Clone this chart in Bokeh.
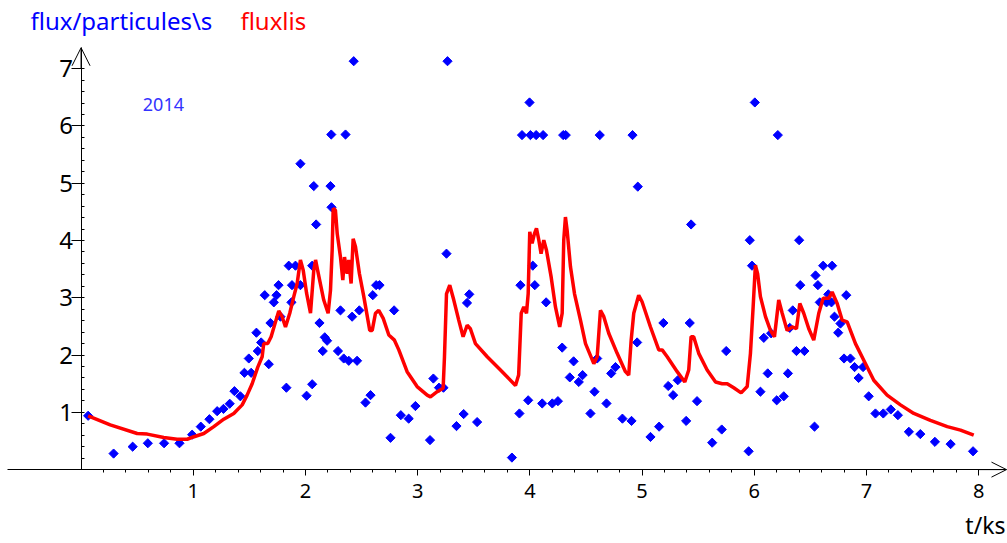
from bokeh.plotting import figure
from bokeh.models import Range1d, FixedTicker, Label, Arrow, OpenHead
from bokeh.embed import file_html
from bokeh.resources import INLINE
from bokeh.core.properties import value

# ---- data ----
t_points = [0.063, 0.29, 0.46, 0.595, 0.74, 0.877, 0.99, 1.067, 1.144, 1.213, 1.269, 1.325, 1.367, 1.42,
            1.456, 1.495, 1.516, 1.563, 1.575, 1.605, 1.637, 1.673, 1.688, 1.718, 1.742, 1.76, 1.777, 1.83,
            1.851, 1.875, 1.88, 1.911, 1.955, 1.955, 2.01, 2.06, 2.06, 2.074, 2.095, 2.125, 2.154, 2.172,
            2.193, 2.223, 2.232, 2.23, 2.29, 2.312, 2.341, 2.357, 2.386, 2.416, 2.43, 2.46, 2.48, 2.535,
            2.58, 2.60, 2.63, 2.66, 2.758, 2.79, 2.85, 2.92, 2.98, 3.11, 3.14, 3.19, 3.23, 3.257, 3.266,
            3.346, 3.41, 3.44, 3.46, 3.53, 3.84, 3.907, 3.916, 3.93, 3.985, 3.997, 4.005, 4.026, 4.044,
            4.056, 4.11, 4.118, 4.145, 4.2, 4.25, 4.288, 4.297, 4.32, 4.356, 4.39, 4.436, 4.47, 4.54,
            4.576, 4.60, 4.623, 4.683, 4.725, 4.763, 4.825, 4.906, 4.915, 4.956, 4.962, 5.075, 5.152,
            5.19, 5.233, 5.277, 5.318, 5.393, 5.425, 5.437, 5.49, 5.625, 5.71, 5.75, 5.95, 5.96, 5.98,
            6.005, 6.055, 6.085, 6.12, 6.15, 6.20, 6.21, 6.263, 6.30, 6.316, 6.343, 6.376, 6.40, 6.41,
            6.447, 6.537, 6.546, 6.567, 6.584, 6.614, 6.644, 6.66, 6.688, 6.694, 6.715, 6.748, 6.768,
            6.80, 6.82, 6.857, 6.894, 6.93, 6.97, 7.02, 7.08, 7.15, 7.217, 7.28, 7.378, 7.48, 7.61,
            7.75, 7.95]
flux = [0.94, 0.28, 0.40, 0.46, 0.46, 0.46, 0.61, 0.75, 0.88, 1.02, 1.06, 1.15, 1.37, 1.28,
        1.69, 1.94, 1.69, 2.39, 2.07, 2.22, 3.045, 1.84, 2.56, 2.92, 3.045, 3.22, 2.67, 1.43,
        3.56, 2.92, 3.22, 3.56, 3.22, 5.34, 1.29, 1.49, 3.56, 4.95, 4.28, 2.56, 2.07, 2.31,
        2.25, 4.95, 4.58, 5.85, 2.07, 2.78, 1.94, 5.85, 1.90, 2.67, 7.13, 1.90, 2.78, 1.17,
        1.30, 3.045, 3.22, 3.22, 0.555, 2.78, 0.95, 0.89, 1.11, 0.515, 1.59, 1.43, 1.43, 3.77, 7.13,
        0.76, 0.97, 2.91, 3.06, 0.83, 0.21, 0.98, 3.22, 5.84, 1.21, 6.41, 5.84, 3.56, 3.22,
        5.84, 1.155, 5.84, 2.92, 1.155, 1.195, 2.13, 5.84, 5.84, 1.61, 1.89, 1.53, 1.65, 0.98,
        1.36, 1.94, 5.84, 1.155, 1.68, 1.79, 0.89, 0.85, 5.84, 2.22, 4.94, 0.57, 0.75,
        2.56, 1.46, 1.30, 1.56, 0.85, 2.56, 4.28, 1.195, 0.47, 0.70, 2.07, 0.32, 4.005, 3.56,
        6.41, 1.36, 2.30, 1.68, 2.38, 1.21, 5.84, 1.28, 1.68, 2.475, 2.78, 2.07, 4.005, 3.22,
        2.07, 0.75, 3.39, 3.22, 2.92, 3.56, 2.92, 3.06, 2.92, 3.56, 2.67, 2.39, 2.55,
        1.94, 3.045, 1.94, 1.79, 1.60, 1.79, 1.28, 0.98, 0.98, 1.05, 0.95, 0.66, 0.62, 0.485,
        0.445, 0.32]

t_lis = [0.063, 0.26, 0.5, 0.59, 0.737, 0.856, 0.946, 1.0, 1.094, 1.183, 1.272, 1.361, 1.436, 1.48,
         1.525, 1.575, 1.614, 1.628, 1.664, 1.694, 1.724, 1.762, 1.792, 1.822, 1.86, 1.896, 1.926,
         1.955, 1.98, 2.01, 2.045, 2.074, 2.09, 2.12, 2.163, 2.202, 2.223, 2.238, 2.247, 2.267, 2.283,
         2.312, 2.333, 2.348, 2.372, 2.386, 2.407, 2.425, 2.446, 2.481, 2.52, 2.573, 2.595, 2.624,
         2.653, 2.693, 2.743, 2.793, 2.832, 2.906, 2.995, 3.085, 3.114, 3.174, 3.227, 3.239, 3.257,
         3.286, 3.322, 3.366, 3.405, 3.441, 3.47, 3.515, 3.62, 3.738, 3.872, 3.9, 3.923, 3.946, 3.97,
         3.985, 3.999, 4.02, 4.041, 4.059, 4.08, 4.1, 4.124, 4.148, 4.19, 4.228, 4.266, 4.288, 4.302,
         4.317, 4.332, 4.362, 4.398, 4.451, 4.496, 4.57, 4.6, 4.629, 4.659, 4.703, 4.778, 4.852,
         4.881, 4.903, 4.926, 4.97, 5.0, 5.075, 5.149, 5.179, 5.224, 5.313, 5.381, 5.416, 5.437,
         5.46, 5.505, 5.58, 5.655, 5.714, 5.759, 5.817, 5.883, 5.937, 5.966, 5.99, 6.01, 6.03, 6.055,
         6.1, 6.144, 6.18, 6.218, 6.249, 6.293, 6.338, 6.376, 6.406, 6.441, 6.486, 6.53, 6.575,
         6.614, 6.664, 6.694, 6.739, 6.783, 6.828, 6.902, 6.976, 7.065, 7.184, 7.303, 7.422, 7.57,
         7.72, 7.838, 7.956]
fluxlis = [0.94, 0.78, 0.63, 0.62, 0.56, 0.53, 0.53, 0.57, 0.63, 0.75, 0.88, 0.98, 1.13, 1.30,
           1.50, 1.79, 1.97, 2.20, 2.20, 2.32, 2.52, 2.77, 2.67, 2.49, 2.73, 3.02, 3.25,
           3.66, 3.48, 3.08, 2.73, 3.48, 3.66, 3.37, 2.96, 2.73, 3.13, 3.83, 4.56, 4.53, 4.12,
           3.71, 3.31, 3.71, 3.42, 3.66, 3.25, 4.03, 3.89, 3.42, 3.02, 2.43, 2.43, 2.73,
           2.78, 2.64, 2.35, 2.26, 2.09, 1.71, 1.45, 1.30, 1.27, 1.36, 1.42, 1.97, 3.07,
           3.22, 2.96, 2.61, 2.32, 2.52, 2.46, 2.20, 1.97, 1.74, 1.47, 1.65, 2.73, 2.84, 2.73,
           3.07, 4.15, 3.95, 4.12, 4.21, 4.005, 3.77, 4.005, 3.83, 3.36, 2.84, 2.49, 2.73, 4.005,
           4.41, 4.18, 3.54, 3.07, 2.61, 2.20, 1.85, 1.97, 2.78, 2.67, 2.38, 2.03, 1.71,
           1.65, 2.26, 2.73, 3.045, 2.93, 2.49, 2.09, 2.09, 1.97, 1.71, 1.53, 1.74, 2.32,
           2.32, 2.03, 1.74, 1.53, 1.50, 1.50, 1.43, 1.34, 1.45, 2.03, 2.84, 3.57, 3.42, 3.02,
           2.67, 2.43, 2.32, 2.96, 2.73, 2.43, 2.49, 2.46, 2.90, 2.73, 2.46, 2.26, 2.73,
           2.99, 2.99, 3.10, 2.90, 2.61, 2.58, 2.20, 1.91, 1.56, 1.30, 1.13, 0.98, 0.86,
           0.75, 0.69, 0.60]

x_major = [1, 2, 3, 4, 5, 6, 7, 8]
x_minor = [round(0.2 * i, 1) for i in range(1, 41)]
y_major = [1, 2, 3, 4, 5, 6, 7]
y_minor = [round(0.2 * i, 1) for i in range(1, 36)]
y_labels = ["1", "2", "3", "4", "5", "6", "7"]

FONT = "Noto Sans"

p = figure(width=1007, height=543, x_range=Range1d(-0.718, 8.257), y_range=Range1d(-1.29, 8.19),
           output_backend="svg", toolbar_location=None, min_border=0, outline_line_color=None)
p.grid.visible = False

xa = p.xaxis[0]
xa.fixed_location = 0
xa.bounds = (-0.656, 8.248)
xa.ticker = FixedTicker(ticks=x_major, minor_ticks=x_minor)
xa.major_tick_out = 6
xa.major_tick_in = 0
xa.minor_tick_out = 3
xa.minor_tick_in = 0
xa.major_label_standoff = 8
xa.major_label_text_font = FONT
xa.major_label_text_font_size = "20px"
xa.major_label_text_color = "black"
xa.axis_line_color = "black"
xa.major_tick_line_color = "black"
xa.minor_tick_line_color = "black"

ya = p.yaxis[0]
ya.fixed_location = 0
ya.bounds = (0, 7.365)
ya.ticker = FixedTicker(ticks=y_major, minor_ticks=y_minor)
ya.major_tick_out = 10
ya.major_tick_in = 0
ya.minor_tick_out = 0
ya.minor_tick_in = 3
ya.major_label_text_color = None
ya.axis_line_color = "black"
ya.major_tick_line_color = "black"
ya.minor_tick_line_color = "black"

p.text(x=[0] * len(y_major), y=y_major, text=y_labels, x_offset=-8, text_align="right",
       text_baseline="alphabetic", text_font=value(FONT), text_font_size="24px", text_color="black")

p.add_layout(Arrow(end=OpenHead(size=18, line_width=1, line_color="black"), x_start=0, y_start=7.0,
                   x_end=0, y_end=7.365, line_width=1, line_color="black"))
p.add_layout(Arrow(end=OpenHead(size=15, line_width=1, line_color="black"), x_start=8.0, y_start=0,
                   x_end=8.248, y_end=0, line_width=1, line_color="black"))

p.scatter(t_points, flux, marker="square", size=6.5, angle=0.785398, color="blue")
p.line(t_lis, fluxlis, color="red", line_width=3.5)

p.add_layout(Label(x=-0.451, y=7.845, text="flux/particules\\s", text_font=FONT, text_font_size="24px",
                   text_color="blue", text_baseline="middle", text_align="left"))
p.add_layout(Label(x=1.42, y=7.845, text="fluxlis", text_font=FONT, text_font_size="24px",
                   text_color="red", text_baseline="middle", text_align="left"))
p.add_layout(Label(x=0.734, y=6.38, text="2014", text_font=FONT, text_font_size="18px",
                   text_color="#3333ff", text_baseline="middle", text_align="center"))
p.add_layout(Label(x=8.239, y=-0.969, text="t/ks", text_font=FONT, text_font_size="23px",
                   text_color="black", text_baseline="middle", text_align="right"))

open("out.html", "w").write(file_html(p, INLINE))
